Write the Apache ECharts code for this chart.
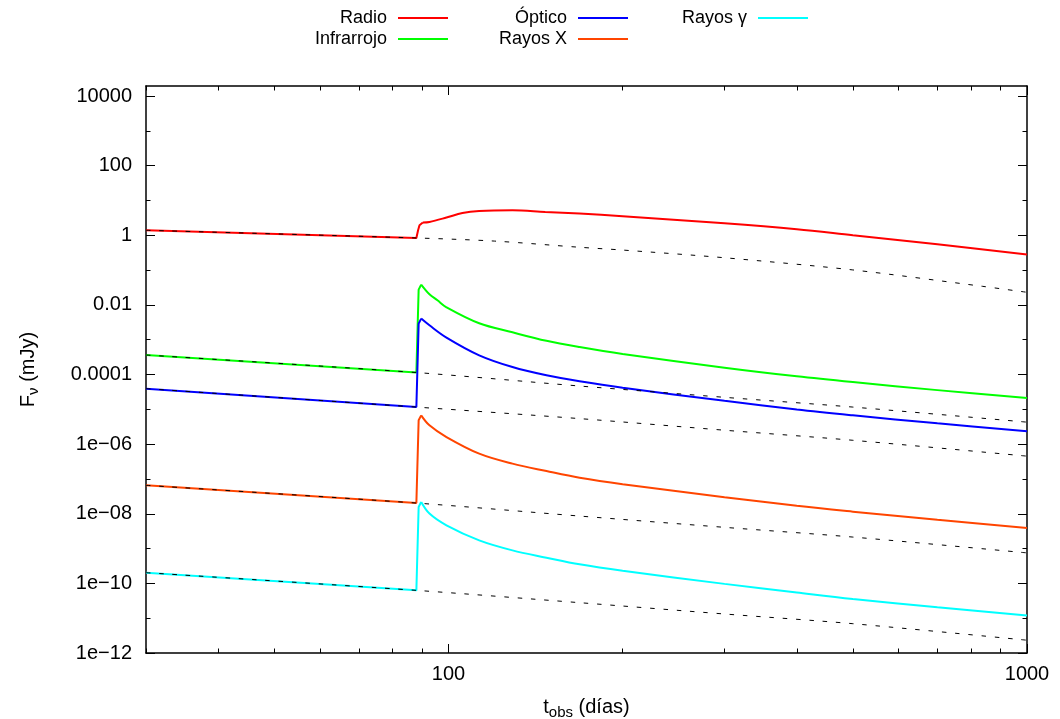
<!DOCTYPE html>
<html>
<head>
<meta charset="utf-8">
<script src="https://cdn.jsdelivr.net/npm/echarts@6/dist/echarts.min.js"></script>
<style>
  html, body { margin: 0; padding: 0; background: #fff; }
  #chart { width: 1060px; height: 719px; }
</style>
</head>
<body>
<div id="chart"></div>
<script>
// Light curves: flux density (mJy) against observer time (days), per band.
// Each band is split at its peak: the early power law plus the sudden rise,
// then the smooth decay that follows.
const radioRise = [[30, 1.39], [88, 0.836], [88.6, 1.39], [89.1, 1.94], [90.3, 2.32]];
const radioDecay = [[90.3, 2.32], [92.7, 2.41], [99.2, 3.23], [105.7, 4.37], [113, 4.99], [129, 5.23],
  [147, 4.67], [168.5, 4.2], [200, 3.52], [300, 2.21], [400, 1.49], [500, 1.0], [700, 0.551], [1000, 0.279]];

const infrarrojoRise = [[30, 3.63e-4], [88, 1.14e-4], [88.8, 0.0275], [89.7, 0.0383]];
const infrarrojoDecay = [[89.7, 0.0383], [92.7, 0.0202], [95.7, 0.01356], [99.2, 8.53e-3], [113, 2.96e-3],
  [129, 1.63e-3], [147.7, 9.3e-4], [168.5, 6.17e-4], [200, 3.91e-4], [300, 1.57e-4], [400, 8.87e-5],
  [500, 6.05e-5], [700, 3.56e-5], [1000, 2.11e-5]];

const opticoRise = [[30, 3.93e-5], [88, 1.16e-5], [88.8, 2.9e-3], [89.7, 4.04e-3]];
const opticoDecay = [[89.7, 4.04e-3], [92.7, 2.59e-3], [99.2, 1.15e-3], [113, 3.56e-4], [129, 1.64e-4],
  [147.7, 9.49e-5], [168.5, 6.38e-5], [200, 4.15e-5], [300, 1.75e-5], [400, 9.86e-6], [500, 6.73e-6],
  [700, 3.96e-6], [1000, 2.33e-6]];

const rayosXRise = [[30, 6.55e-8], [88, 2.03e-8], [88.8, 4.83e-6], [89.7, 6.72e-6]];
const rayosXDecay = [[89.7, 6.72e-6], [92.7, 3.47e-6], [99.2, 1.60e-6], [113, 5.33e-7], [129, 2.75e-7],
  [147.7, 1.69e-7], [168.5, 1.09e-7], [200, 7.09e-8], [300, 3.00e-8], [400, 1.69e-8], [500, 1.15e-8],
  [700, 6.68e-9], [1000, 3.88e-9]];

const rayosGammaRise = [[30, 2.03e-10], [88, 6.30e-11], [88.8, 1.56e-8], [89.7, 2.17e-8]];
const rayosGammaDecay = [[89.7, 2.17e-8], [92.7, 1.01e-8], [99.2, 4.65e-9], [113, 1.72e-9], [129, 8.88e-10],
  [147.7, 5.48e-10], [168.5, 3.52e-10], [200, 2.29e-10], [300, 9.68e-11], [400, 5.44e-11], [500, 3.54e-11],
  [700, 2.07e-11], [1000, 1.20e-11]];

// Same bands without the late component (dashed black curves).
const radioBase = [[30, 1.39], [88, 0.836], [120, 0.681], [168.5, 0.452], [200, 0.376], [300, 0.226],
  [500, 0.101], [837, 0.0342], [1000, 0.023]];
const infrarrojoBase = [[30, 3.63e-4], [88, 1.14e-4], [168.5, 4.67e-5], [300, 2.21e-5], [500, 1.16e-5], [1000, 4.28e-6]];
const opticoBase = [[30, 3.93e-5], [88, 1.16e-5], [168.5, 5.41e-6], [300, 2.51e-6], [500, 1.29e-6], [1000, 4.52e-7]];
const rayosXBase = [[30, 6.55e-8], [88, 2.03e-8], [168.5, 8.59e-9], [300, 4.07e-9], [500, 2.14e-9], [1000, 7.52e-10]];
const rayosGammaBase = [[30, 2.03e-10], [88, 6.30e-11], [168.5, 2.79e-11], [300, 1.32e-11], [500, 6.95e-12], [1000, 2.33e-12]];

// Axis ticks and labels.
const xMajorTicks = [100, 1000];
const xMinorTicks = [30, 40, 50, 60, 70, 80, 90, 200, 300, 400, 500, 600, 700, 800, 900];
const yMajorTicks = [1e-12, 1e-10, 1e-8, 1e-6, 1e-4, 1e-2, 1, 100, 10000];
const yTickLabels = ['1e\u221212', '1e\u221210', '1e\u221208', '1e\u221206', '0.0001', '0.01', '1', '100', '10000'];
const yMinorTicks = [1e-11, 1e-9, 1e-7, 1e-5, 1e-3, 1e-1, 10, 1000];

const FONT = '"Liberation Sans", Arial, Helvetica, sans-serif';
const X_MIN = 30, X_MAX = 1000, Y_MIN = 1e-12, Y_MAX = 19400;

function yLabel(v) {
  for (let i = 0; i < yMajorTicks.length; i++) {
    if (Math.abs(Math.log10(v) - Math.log10(yMajorTicks[i])) < 1e-6) return yTickLabels[i];
  }
  return '';
}

const frameLine = { show: true, lineStyle: { color: '#000', width: 1.5 } };
const tickStyle = { color: '#000', width: 1 };
const titleRich = {
  b: { fontSize: 20, color: '#000', fontFamily: FONT },
  s: { fontSize: 15, color: '#000', fontFamily: FONT, padding: [11, 0, 0, 0] }
};

function xAxisDef(position, ticks, len, withLine, withLabels) {
  const ax = {
    type: 'log', logBase: 10, min: X_MIN, max: X_MAX, position: position,
    axisLine: withLine ? frameLine : { show: false },
    axisTick: { show: true, inside: true, length: len, customValues: ticks, lineStyle: tickStyle },
    axisLabel: { show: false },
    splitLine: { show: false }, minorTick: { show: false }
  };
  if (withLabels) {
    ax.axisLabel = {
      show: true, customValues: xMajorTicks, margin: 11,
      color: '#000', fontSize: 20, fontFamily: FONT,
      formatter: v => String(Math.round(v))
    };
    ax.name = '{b|t}{s|obs}{b| (días)}';
    ax.nameLocation = 'middle';
    ax.nameGap = 41;
    ax.nameTextStyle = { color: '#000', fontFamily: FONT, rich: titleRich };
  }
  return ax;
}

function yAxisDef(position, ticks, len, withLine, withLabels) {
  const ax = {
    type: 'log', logBase: 10, min: Y_MIN, max: Y_MAX, position: position,
    axisLine: withLine ? frameLine : { show: false },
    axisTick: { show: true, inside: true, length: len, customValues: ticks, lineStyle: tickStyle },
    axisLabel: { show: false },
    splitLine: { show: false }, minorTick: { show: false }
  };
  if (withLabels) {
    ax.axisLabel = {
      show: true, customValues: yMajorTicks, margin: 14,
      color: '#000', fontSize: 20, fontFamily: FONT,
      formatter: yLabel
    };
    ax.name = '{b|F}{s|\u03bd}{b| (mJy)}';
    ax.nameLocation = 'middle';
    ax.nameRotate = 90;
    ax.nameGap = 105;
    ax.nameTextStyle = { color: '#000', fontFamily: FONT, rich: titleRich };
  }
  return ax;
}

function bandSeries(name, data, color, smooth) {
  return {
    name: name, type: 'line', data: data, xAxisIndex: 0, yAxisIndex: 0,
    symbol: 'none', showSymbol: false, smooth: smooth, z: 2,
    lineStyle: { color: color, width: 2 }, itemStyle: { color: color }
  };
}

function baseSeries(name, data) {
  return {
    name: name, type: 'line', data: data, xAxisIndex: 0, yAxisIndex: 0,
    symbol: 'none', showSymbol: false, smooth: 0.3, z: 3, silent: true,
    lineStyle: { color: '#000', width: 1, type: [4.5, 8.8] }
  };
}

function legendItem(name, lineRight, top) {
  return {
    data: [name], right: 1060 - lineRight, top: top, align: 'right', orient: 'horizontal',
    icon: 'rect', itemWidth: 50, itemHeight: 2, padding: 0, selectedMode: false,
    textStyle: { color: '#000', fontSize: 18, fontFamily: FONT, padding: [0, 6, 0, 0] }
  };
}

const bands = [
  { name: 'Radio', color: '#ff0000', rise: radioRise, decay: radioDecay },
  { name: 'Infrarrojo', color: '#00ff00', rise: infrarrojoRise, decay: infrarrojoDecay },
  { name: 'Óptico', color: '#0000ff', rise: opticoRise, decay: opticoDecay },
  { name: 'Rayos X', color: '#ff4500', rise: rayosXRise, decay: rayosXDecay },
  { name: 'Rayos \u03b3', color: '#00ffff', rise: rayosGammaRise, decay: rayosGammaDecay }
];

const series = [];
bands.forEach(b => {
  series.push(bandSeries(b.name, b.rise, b.color, false));
  series.push(bandSeries(b.name, b.decay, b.color, 0.35));
});
series.push(
  baseSeries('Radio base', radioBase),
  baseSeries('Infrarrojo base', infrarrojoBase),
  baseSeries('Óptico base', opticoBase),
  baseSeries('Rayos X base', rayosXBase),
  baseSeries('Rayos \u03b3 base', rayosGammaBase)
);

const chart = echarts.init(document.getElementById('chart'), null, { renderer: 'canvas' });
chart.setOption({
  animation: false,
  backgroundColor: '#fff',
  textStyle: { fontFamily: FONT },
  grid: { left: 146, right: 33, top: 86, bottom: 66, containLabel: false, outerBoundsMode: 'none' },
  legend: [
    legendItem('Radio', 448, 9),
    legendItem('Infrarrojo', 448, 30),
    legendItem('Óptico', 628, 9),
    legendItem('Rayos X', 628, 30),
    legendItem('Rayos \u03b3', 808, 9)
  ],
  xAxis: [
    xAxisDef('bottom', xMajorTicks, 9, true, true),
    xAxisDef('bottom', xMinorTicks, 4.5, false, false),
    xAxisDef('top', xMajorTicks, 9, true, false),
    xAxisDef('top', xMinorTicks, 4.5, false, false)
  ],
  yAxis: [
    yAxisDef('left', yMajorTicks, 9, true, true),
    yAxisDef('left', yMinorTicks, 4.5, false, false),
    yAxisDef('right', yMajorTicks, 9, true, false),
    yAxisDef('right', yMinorTicks, 4.5, false, false)
  ],
  series: series
});
</script>
</body>
</html>
